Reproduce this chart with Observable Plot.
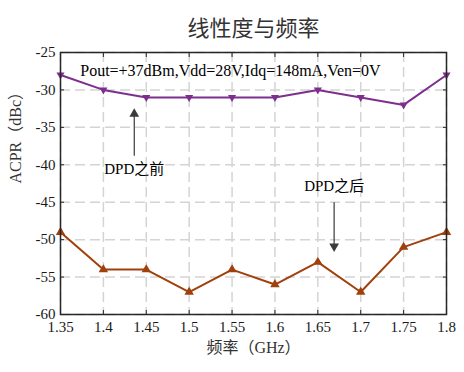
<!DOCTYPE html>
<html><head><meta charset="utf-8">
<script src="https://cdn.jsdelivr.net/npm/d3@7"></script>
<script src="https://cdn.jsdelivr.net/npm/@observablehq/plot@0.6"></script>
<style>body{margin:0;background:#fff;}</style>
</head><body><div id="chart"></div>
<script>
const freqs = [1.35,1.4,1.45,1.5,1.55,1.6,1.65,1.7,1.75,1.8];
const before = [-28,-30,-31,-31,-31,-31,-30,-31,-32,-28];
const after = [-49,-54,-54,-57,-54,-56,-53,-57,-51,-49];
const xTicks = [1.35,1.4,1.45,1.5,1.55,1.6,1.65,1.7,1.75,1.8];
const yTicks = [-60,-55,-50,-45,-40,-35,-30,-25];
const title = "线性度与频率";
const xLabel = "频率（GHz）";
const yLabel = "ACPR（dBc）";
const condText = "Pout=+37dBm,Vdd=28V,Idq=148mA,Ven=0V";
const condPos = {x:1.373, y:-27.4};
const notes = [
  {label:"DPD之前", x:1.436, y:-40.6, ax:1.436, ay1:-38.8, ay2:-32.8, up:true},
  {label:"DPD之后", x:1.669, y:-42.9, ax:1.669, ay1:-45.0, ay2:-51.3, up:false}
];
const purple = "#7E2F8E", brown = "#A0400C";
const serif = "'Liberation Serif','Noto Sans CJK SC',serif";
const bData = freqs.map((f,i)=>({f, v:before[i]}));
const aData = freqs.map((f,i)=>({f, v:after[i]}));

const chart = Plot.plot({
  width:464, height:372,
  marginLeft:60, marginRight:18, marginTop:52, marginBottom:58,
  style:{fontFamily:serif, fontSize:"15px", color:"#1a1a1a", background:"#fff"},
  x:{domain:[1.35,1.8], ticks:xTicks},
  y:{domain:[-60,-25], ticks:yTicks},
  marks:[
    Plot.gridX(xTicks,{stroke:"#d4d4d4", strokeOpacity:1, strokeWidth:1.5, strokeDasharray:"10,5"}),
    Plot.gridY(yTicks,{stroke:"#d4d4d4", strokeOpacity:1, strokeWidth:1.5, strokeDasharray:"10,5"}),
    Plot.axisX({ticks:xTicks, tickSize:0, tickPadding:7, label:null, tickFormat:d=>String(d), fontSize:15}),
    Plot.axisY({ticks:yTicks, tickSize:0, tickPadding:5, label:null, tickFormat:d=>String(d), fontSize:15}),
    Plot.axisX({ticks:xTicks, anchor:"bottom", text:null, label:null, tickSize:4, dy:-4, stroke:"#262626"}),
    Plot.axisX({ticks:xTicks, anchor:"top", text:null, label:null, tickSize:4, dy:4, stroke:"#262626"}),
    Plot.axisY({ticks:yTicks, anchor:"left", text:null, label:null, tickSize:4, dx:4, stroke:"#262626"}),
    Plot.axisY({ticks:yTicks, anchor:"right", text:null, label:null, tickSize:4, dx:-4, stroke:"#262626"}),
    Plot.line(bData,{x:"f", y:"v", stroke:purple, strokeWidth:2}),
    Plot.dot(bData,{x:"f", y:"v", symbol:"triangle", rotate:180, r:3, fill:purple, stroke:"none"}),
    Plot.line(aData,{x:"f", y:"v", stroke:brown, strokeWidth:2}),
    Plot.dot(aData,{x:"f", y:"v", symbol:"triangle", r:3.5, fill:brown, stroke:"none"}),
    Plot.link(notes,{x1:"ax", y1:"ay1", x2:"ax", y2:"ay2", stroke:"#3a3a3a", strokeWidth:1.2}),
    Plot.dot(notes.filter(d=>d.up),{x:"ax", y:"ay2", symbol:"triangle", r:3.6, dy:3, fill:"#3a3a3a", stroke:"none"}),
    Plot.dot(notes.filter(d=>!d.up),{x:"ax", y:"ay2", symbol:"triangle", rotate:180, r:3.6, dy:-3, fill:"#3a3a3a", stroke:"none"}),
    Plot.text(notes,{x:"x", y:"y", text:"label", fontSize:15, fill:"#000"}),
    Plot.text([condText],{x:()=>condPos.x, y:()=>condPos.y, text:d=>d, textAnchor:"start", fontSize:16, fill:"#000"}),
    Plot.frame({stroke:"#262626", strokeWidth:1.5}),
    Plot.text([title],{frameAnchor:"top", dy:-32, text:d=>d, fontSize:22, fill:"#333", fontFamily:"'Noto Sans CJK SC',sans-serif"}),
    Plot.text([xLabel],{frameAnchor:"bottom", dy:38, text:d=>d, fontSize:16, fill:"#333"}),
    Plot.text([yLabel],{frameAnchor:"left", dx:-45, rotate:-90, text:d=>d, fontSize:16, fill:"#333"})
  ]
});
document.getElementById("chart").appendChild(chart);
</script></body></html>
